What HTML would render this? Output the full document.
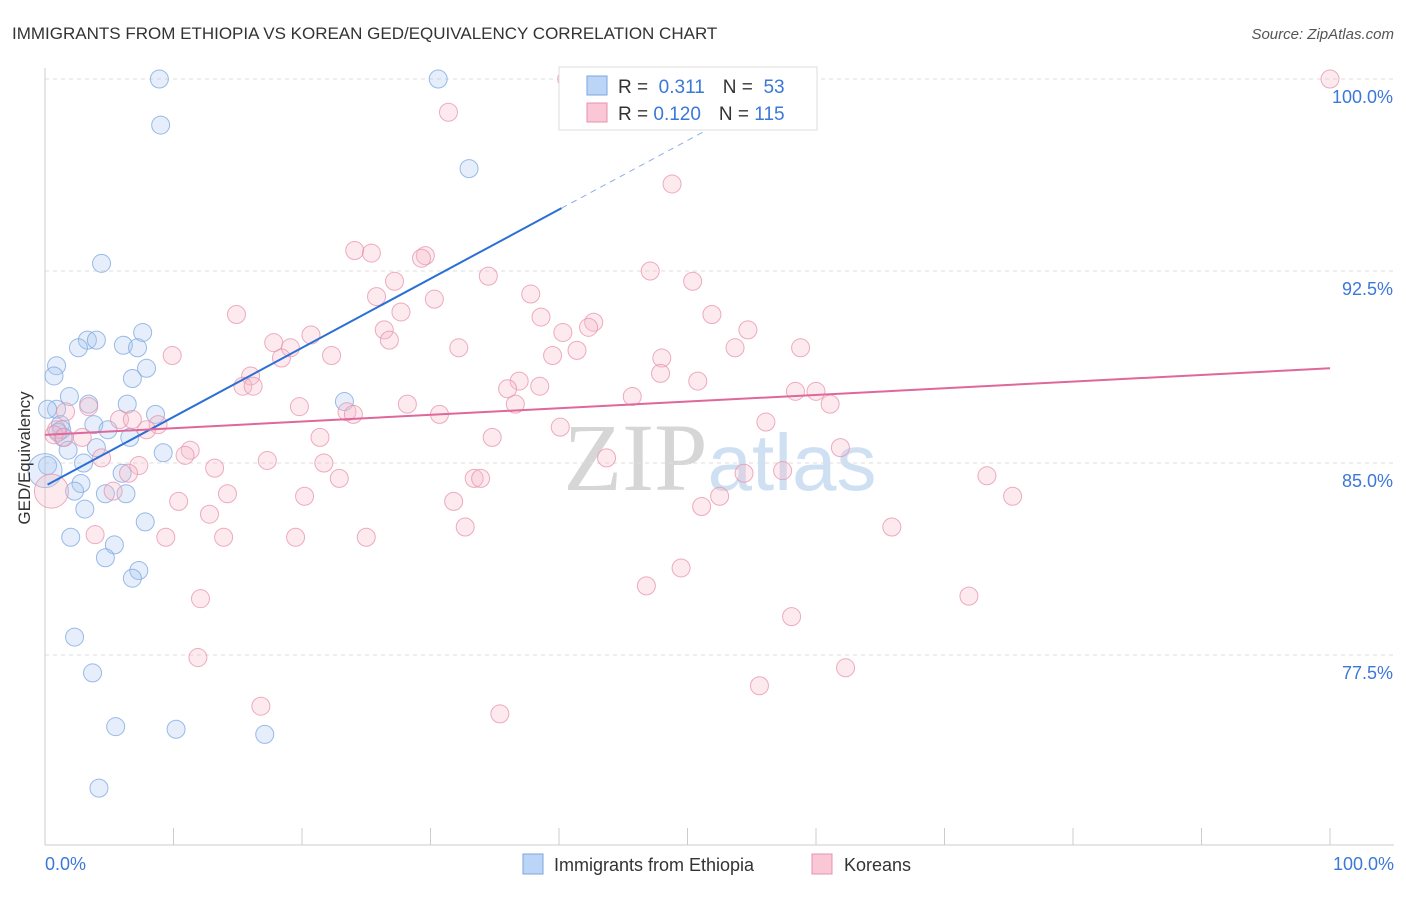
<!DOCTYPE html>
<html><head><meta charset="utf-8"><style>
body{margin:0;background:#fff;font-family:"Liberation Sans",sans-serif;}
</style></head><body>
<svg width="1406" height="892" xmlns="http://www.w3.org/2000/svg">
<text x="12" y="39" font-size="17" fill="#333">IMMIGRANTS FROM ETHIOPIA VS KOREAN GED/EQUIVALENCY CORRELATION CHART</text>
<text x="1394" y="39" font-size="15" fill="#555" font-style="italic" text-anchor="end">Source: ZipAtlas.com</text>
<text x="720" y="490" font-size="96" fill="#ddd" text-anchor="middle" font-family="Liberation Serif"><tspan fill="#d6d6d6">ZIP</tspan><tspan fill="#cfe0f3" font-family="Liberation Sans" font-size="80">atlas</tspan></text>
<g id="grid"></g>
<g id="axes"></g>
<g id="pts"></g>
<g id="lines"></g>
<text transform="translate(30,458) rotate(-90)" font-size="17" fill="#333" text-anchor="middle">GED/Equivalency</text>
<text x="45" y="870" font-size="18" fill="#3b78d8">0.0%</text>
<text x="1394" y="870" font-size="18" fill="#3b78d8" text-anchor="end">100.0%</text>
<g>
<rect x="559" y="67" width="258" height="63" fill="#fff" stroke="#ddd"/>
<rect x="587" y="76" width="20" height="19" fill="#bcd4f5" stroke="#7aa6e0"/>
<rect x="587" y="103" width="20" height="19" fill="#f9c7d6" stroke="#e890ac"/>
<text x="618" y="93" font-size="19" fill="#333">R = <tspan fill="#3b78d8">&#160;0.311</tspan><tspan dx="18">N = </tspan><tspan fill="#3b78d8">&#160;53</tspan></text>
<text x="618" y="120" font-size="19" fill="#333">R = <tspan fill="#3b78d8">0.120</tspan><tspan dx="18">N = </tspan><tspan fill="#3b78d8">115</tspan></text>
</g>
<g>
<rect x="523" y="854" width="20" height="20" fill="#bcd4f5" stroke="#7aa6e0"/>
<text x="554" y="871" font-size="18" fill="#333">Immigrants from Ethiopia</text>
<rect x="812" y="854" width="20" height="20" fill="#f9c7d6" stroke="#e890ac"/>
<text x="844" y="871" font-size="18" fill="#333">Koreans</text>
</g>
</svg>
<script>
const yTicks=[100,92.5,85,77.5];
const xTicks=[0,10,20,30,40,50,60,70,80,90,100];
const blueX=[8.9,30.6,9.0,33.0,4.4,3.3,4.0,7.6,2.6,6.1,7.2,0.9,0.7,7.9,6.8,1.9,0.9,3.4,6.4,0.2,8.6,1.2,3.8,4.9,6.6,1.4,1.8,4.0,9.2,3.0,0.2,6.0,2.8,2.3,4.7,6.3,3.1,7.8,2.0,5.4,4.7,7.3,6.8,2.3,3.7,5.5,10.2,17.1,4.2,23.3,1.3,1.0,0];
const blueY=[100,100,98.2,96.5,92.8,89.8,89.8,90.1,89.5,89.6,89.5,88.8,88.4,88.7,88.3,87.6,87.1,87.3,87.3,87.1,86.9,86.5,86.5,86.3,86.0,86.0,85.5,85.6,85.4,85.0,84.9,84.6,84.2,83.9,83.8,83.8,83.2,82.7,82.1,81.8,81.3,80.8,80.5,78.2,76.8,74.7,74.6,74.4,72.3,87.4,86.3,86.2,84.7];
const pinkX=[40.6,100,31.4,48.8,24.1,25.4,29.6,29.3,47.1,34.5,27.2,50.4,25.8,37.8,30.3,14.9,27.7,38.6,51.9,20.7,26.4,42.7,42.3,40.3,54.7,17.8,19.1,26.8,32.2,53.7,9.9,22.3,18.4,39.5,41.4,58.8,48.0,47.9,16.0,15.4,16.2,36.9,36.0,38.5,50.8,45.7,58.4,60.0,61.1,19.8,28.2,36.6,30.7,23.5,24.0,3.4,1.6,5.8,6.8,8.8,7.9,0.9,0.7,1.5,2.9,56.1,40.1,21.4,34.8,11.3,10.9,4.4,17.3,21.7,43.7,61.9,7.3,13.2,54.4,57.4,22.9,33.4,33.9,6.5,5.3,14.2,20.2,73.3,75.3,10.4,31.8,52.5,51.1,12.8,32.7,65.9,3.9,9.4,19.5,13.9,25.0,49.5,46.8,12.1,71.9,58.1,11.9,62.3,55.6,16.8,35.4,0.5];
const pinkY=[100,100,98.7,95.9,93.3,93.2,93.1,93.0,92.5,92.3,92.1,92.1,91.5,91.6,91.4,90.8,90.9,90.7,90.8,90.0,90.2,90.5,90.3,90.1,90.2,89.7,89.5,89.8,89.5,89.5,89.2,89.2,89.1,89.2,89.4,89.5,89.1,88.5,88.4,88.0,88.0,88.2,87.9,88.0,88.2,87.6,87.8,87.8,87.3,87.2,87.3,87.3,86.9,87.0,86.9,87.2,87.0,86.7,86.7,86.5,86.3,86.3,86.1,86.0,86.0,86.6,86.4,86.0,86.0,85.5,85.3,85.2,85.1,85.0,85.2,85.6,84.9,84.8,84.6,84.7,84.4,84.4,84.4,84.6,83.9,83.8,83.7,84.5,83.7,83.5,83.5,83.7,83.3,83.0,82.5,82.5,82.2,82.1,82.1,82.1,82.1,80.9,80.2,79.7,79.8,79.0,77.4,77.0,76.3,75.5,75.2,83.9];
const blueFit=[84.1,0.27];
const pinkFit=[86.1,0.026];
const NS='http://www.w3.org/2000/svg';
const sx=v=>45+v*12.85, sy=v=>79+(100-v)*25.6;
function mk(tag,attrs,parent){const e=document.createElementNS(NS,tag);for(const k in attrs)e.setAttribute(k,attrs[k]);document.getElementById(parent).appendChild(e);return e;}
yTicks.forEach(t=>{
 const l=mk('line',{x1:45,x2:1394,y1:sy(t),y2:sy(t),stroke:'#ddd','stroke-dasharray':'4,4'},'grid');
 
 
 const tx=mk('text',{x:1393,y:sy(t)+24,'font-size':18,fill:'#3b78d8','text-anchor':'end'},'grid');
 tx.textContent=t.toFixed(1)+'%';
 
 
});
mk('line',{x1:45,x2:45,y1:68,y2:845,stroke:'#ccc'},'axes');
mk('line',{x1:45,x2:1394,y1:845,y2:845,stroke:'#ccc'},'axes');
xTicks.forEach(t=>{
 const l=mk('line',{x1:sx(t),x2:sx(t),y1:828,y2:845,stroke:'#ccc'},'axes');
 
 
});
function pts(X,Y,fill,stroke,name){X.forEach((x,i)=>{
 const big=(i===X.length-1)&&x<1;
 const c=mk('circle',{cx:sx(x),cy:sy(Y[i]),r:big?17:9,fill:fill,'fill-opacity':0.3,stroke:stroke,'stroke-opacity':0.75,'stroke-width':1},'pts');
 
 
});}
pts(blueX,blueY,'#a9c8f0','#7aa6e0','ethiopia-point');
pts(pinkX,pinkY,'#f5b8cb','#e890ac','korean-point');
const bl=mk('line',{x1:sx(0.2),y1:sy(blueFit[0]+blueFit[1]*0.2),x2:sx(40.2),y2:sy(blueFit[0]+blueFit[1]*40.2),stroke:'#2a6fd6','stroke-width':2},'lines');


const bd=mk('line',{x1:sx(40.2),y1:sy(blueFit[0]+blueFit[1]*40.2),x2:sx(53),y2:sy(blueFit[0]+blueFit[1]*53),stroke:'#8ab0e6','stroke-width':1,'stroke-dasharray':'6,5'},'lines');


const pl=mk('line',{x1:sx(0),y1:sy(pinkFit[0]),x2:sx(100),y2:sy(pinkFit[0]+pinkFit[1]*100),stroke:'#e0679a','stroke-width':2},'lines');


</script>
</body></html>
